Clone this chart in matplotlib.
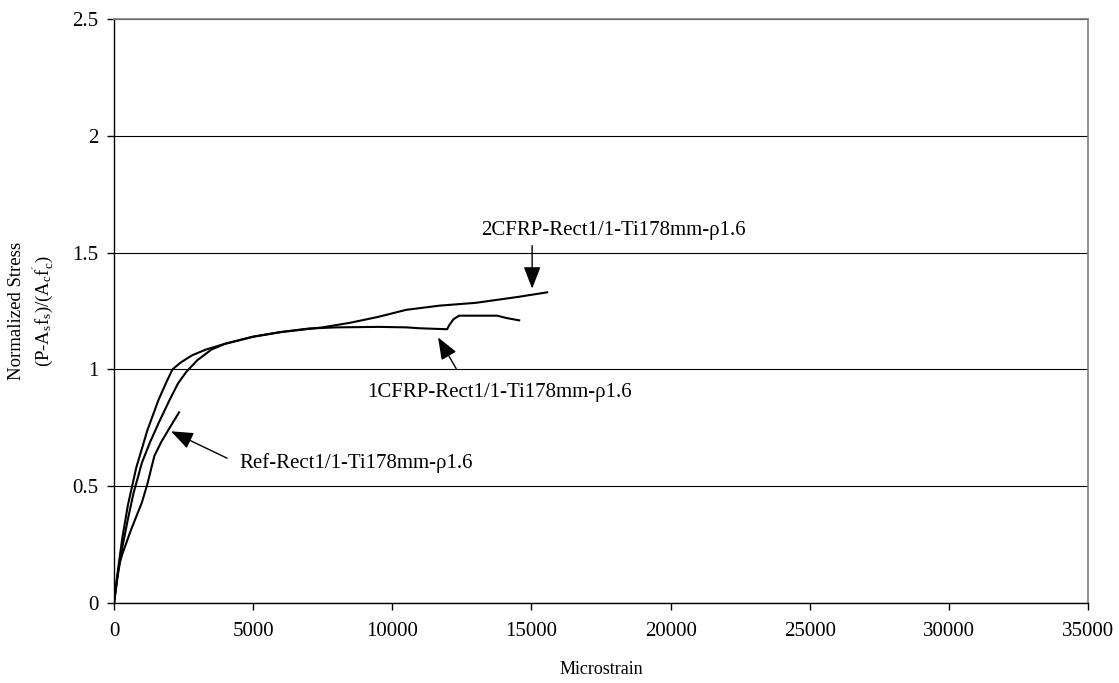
import matplotlib.pyplot as plt

plt.rcParams['font.family'] = ['Liberation Serif', 'DejaVu Serif']
plt.rcParams['mathtext.fontset'] = 'custom'
plt.rcParams['mathtext.rm'] = 'Liberation Serif'
plt.rcParams['mathtext.it'] = 'Liberation Serif'

# stress-strain curves (microstrain, normalized stress)
ref_x = [0, 100, 200, 300, 450, 600, 800, 1000, 1200, 1450, 1700, 2000, 2336]
ref_y = [0, 0.10, 0.17, 0.21, 0.26, 0.31, 0.37, 0.43, 0.51, 0.63, 0.69, 0.75, 0.816]

cfrp1_x = [0, 150, 300, 500, 800, 1200, 1600, 1900, 2100, 2400, 2800, 3300,
           4000, 5000, 6000, 7000, 8000, 9500, 10500, 11000, 11970, 12050,
           12200, 12400, 13000, 13767, 14100, 14560]
cfrp1_y = [0, 0.15, 0.28, 0.42, 0.58, 0.74, 0.87, 0.95, 1.00, 1.03, 1.06, 1.085,
           1.11, 1.14, 1.16, 1.175, 1.18, 1.182, 1.18, 1.176, 1.172, 1.19,
           1.215, 1.23, 1.23, 1.23, 1.22, 1.21]

cfrp2_x = [0, 150, 300, 500, 700, 1000, 1300, 1600, 2000, 2300, 2600, 3000,
           3500, 4000, 5000, 6000, 7500, 8500, 9500, 10500, 11700, 13000,
           14500, 15565]
cfrp2_y = [0, 0.13, 0.24, 0.36, 0.47, 0.60, 0.69, 0.77, 0.87, 0.94, 0.99, 1.04,
           1.085, 1.11, 1.14, 1.16, 1.18, 1.20, 1.225, 1.255, 1.273, 1.285,
           1.31, 1.33]

labels = ['Ref-Rect1/1-Ti178mm-ρ1.6', '1CFRP-Rect1/1-Ti178mm-ρ1.6',
          '2CFRP-Rect1/1-Ti178mm-ρ1.6']

fig = plt.figure(figsize=(11.19, 6.83), dpi=100)
ax = fig.add_axes([0.1019, 0.1171, 0.8704, 0.8551])

ax.plot(ref_x, ref_y, color='black', lw=1.5)
ax.plot(cfrp1_x, cfrp1_y, color='black', lw=1.5)
ax.plot(cfrp2_x, cfrp2_y, color='black', lw=1.5)

ax.set_xlim(0, 35000)
ax.set_ylim(0, 2.5)
ax.set_xticks(range(0, 35001, 5000))
ax.set_yticks([0, 0.5, 1, 1.5, 2, 2.5])
ax.set_yticklabels(['0', '0.5', '1', '1.5', '2', '2.5'])
ax.yaxis.grid(True, color='black', lw=0.8)
ax.set_axisbelow(True)

for side in ['top', 'right']:
    ax.spines[side].set_color('#808080')
    ax.spines[side].set_linewidth(1.2)
for side in ['left', 'bottom']:
    ax.spines[side].set_color('black')
    ax.spines[side].set_linewidth(1.0)

ax.tick_params(direction='out', length=5, width=1, labelsize=15, colors='black')
ax.tick_params(axis='x', pad=9)
ax.tick_params(axis='y', pad=6)

ax.set_xlabel('Microstrain', fontsize=13, labelpad=14)
ax.set_ylabel("Normalized Stress\n(P-A$_s$f$_s$)/(A$_c$f$^{'}_c$)",
              fontsize=13.5, labelpad=12, linespacing=1.3)

arrow = dict(arrowstyle='-|>,head_length=0.9,head_width=0.35', color='black',
             lw=1.0, mutation_scale=15, shrinkA=0, shrinkB=0)

ax.text(4500, 0.598, labels[0], fontsize=15, ha='left', va='center')
ax.annotate('', xy=(2049, 0.735), xytext=(4062, 0.62), arrowprops=arrow)
ax.text(13850, 0.90, labels[1], fontsize=15, ha='center', va='center')
ax.annotate('', xy=(11646, 1.137), xytext=(12293, 1.004), arrowprops=arrow)
ax.text(17950, 1.594, labels[2], fontsize=15, ha='center', va='center')
ax.annotate('', xy=(15025, 1.346), xytext=(15025, 1.53), arrowprops=arrow)

fig.savefig('out.png', dpi=100)
